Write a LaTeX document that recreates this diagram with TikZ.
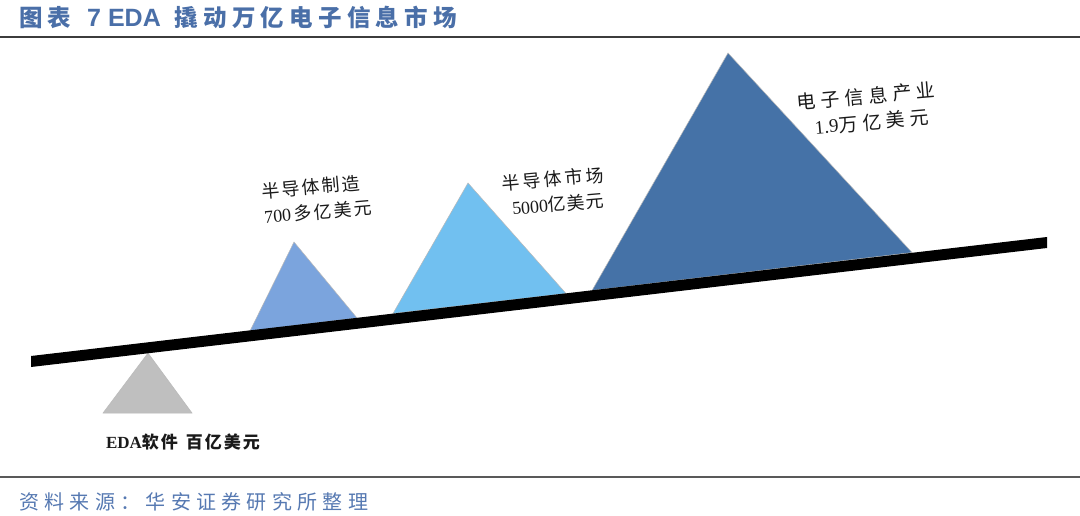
\documentclass[tikz,border=0pt]{standalone}
\usepackage{fontspec}
\setmainfont{Liberation Serif}
\newfontfamily\cjk{Noto Sans CJK SC}
\newfontfamily\arialf{Liberation Sans}
\definecolor{hdr}{HTML}{4A6FA8}
\definecolor{srcc}{HTML}{5679B2}
\definecolor{rulec}{HTML}{3C3C3C}
\definecolor{edagray}{HTML}{BFBFBF}
\definecolor{triA}{HTML}{7BA4DD}
\definecolor{triB}{HTML}{71C0F0}
\definecolor{triC}{HTML}{4572A7}
\definecolor{lbltext}{HTML}{1A1A1A}
\makeatletter
\newcommand\spc[2]{\def\spc@amt{#1}\spc@go#2\relax}
\def\spc@go#1{\ifx#1\relax\else#1\hspace{\spc@amt}\expandafter\spc@go\fi}
\makeatother
\begin{document}
\begin{tikzpicture}[x=1pt,y=-1pt,
  lbl/.style={text=lbltext, rotate=5, inner sep=0pt, anchor=center},
  tri/.style={draw=gray!55, line width=0.5pt},
  rulel/.style={draw=rulec, line width=2pt}]
\useasboundingbox (0,0) rectangle (1080,516);
\fill[white] (0,0) rectangle (1080,516);
% header
\node[anchor=west, text=hdr, inner sep=0pt] (title) at (19,17)
  {\fontsize{23.5}{26}\selectfont\cjk\bfseries\spc{4.5pt}{图表}\hspace{12pt}{\arialf\bfseries\fontsize{25}{26}\selectfont 7 EDA}\hspace{14pt}\cjk\bfseries\spc{5.2pt}{撬动万亿电子信息市场}};
\draw[rulel] (0,37) -- (1080,37);
% footer
\draw[rulel, draw=rulec!85] (0,477) -- (1080,477);
\node[anchor=west, text=srcc, inner sep=0pt] (source) at (19,502)
  {\fontsize{20}{24}\selectfont\cjk\spc{5.3pt}{资料来源：华安证券研究所整理}};
% triangles
\filldraw[tri, fill=edagray] (148,353) -- (192,413) -- (103,413) -- cycle;
\filldraw[tri, fill=triA] (294,242) -- (357,318) -- (250,331) -- cycle;
\filldraw[tri, fill=triB] (468,183) -- (566,293.5) -- (393,313.5) -- cycle;
\filldraw[tri, fill=triC] (728,53) -- (912,252.5) -- (592,290.5) -- cycle;
% beam
\fill[black] (31,356) -- (1047,237) -- (1047,248) -- (31,367) -- cycle;
% labels
\node[lbl] (l1a) at (311,187) {\fontsize{18}{20}\selectfont\cjk\spc{2pt}{半导体制造}};
\node[lbl] (l1b) at (318,212) {\fontsize{18}{20}\selectfont 700\hspace{3pt}\cjk\spc{2pt}{多亿美元}};
\node[lbl] (l2a) at (553,179) {\fontsize{18}{20}\selectfont\cjk\spc{3pt}{半导体市场}};
\node[lbl] (l2b) at (558,204) {\fontsize{18}{20}\selectfont 5000\cjk\spc{1pt}{亿美元}};
\node[lbl] (l3a) at (866,96) {\fontsize{19}{22}\selectfont\cjk\spc{5pt}{电子信息产业}};
\node[lbl] (l3b) at (872,122) {\fontsize{19}{22}\selectfont 1.9\cjk\spc{5pt}{万亿美元}};
\node[text=lbltext, inner sep=0pt] (l0) at (183,442) {\fontsize{17}{20}\selectfont\bfseries EDA\cjk\spc{2pt}{软件}\hspace{6pt}\spc{2pt}{百亿美元}};
\end{tikzpicture}
\end{document}
